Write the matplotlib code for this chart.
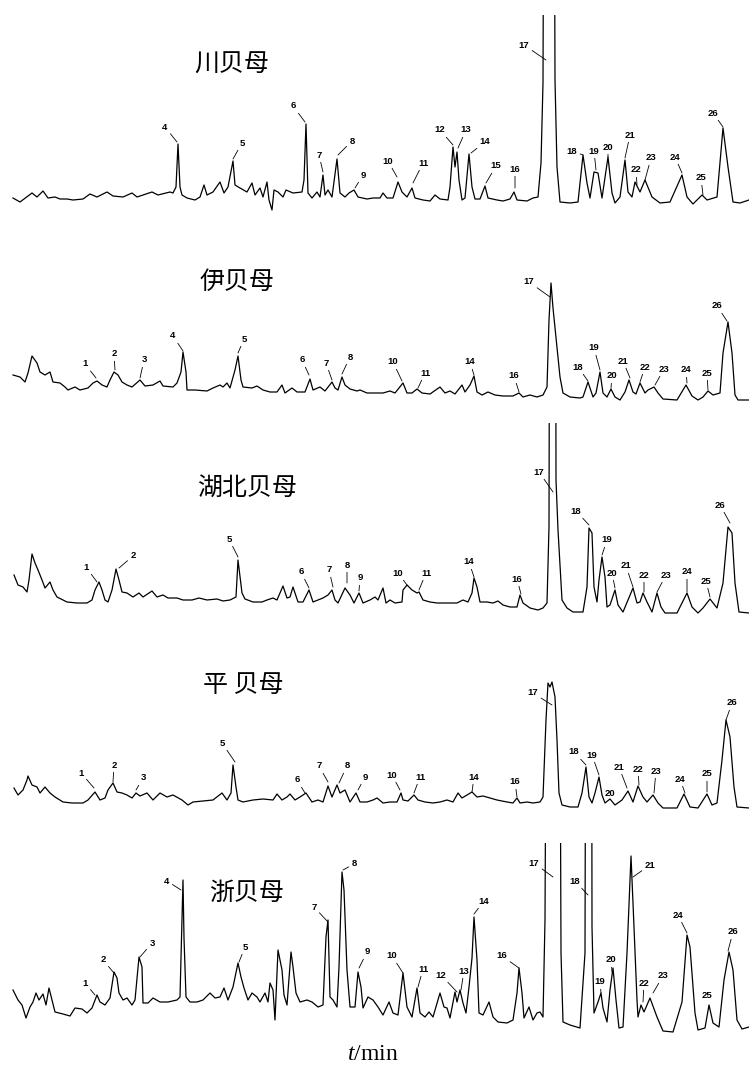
"""HPLC-ELSD fingerprints of five Fritillaria (贝母) species, stacked."""

import matplotlib
matplotlib.use('Agg')
import matplotlib.pyplot as plt

plt.rcParams['font.family'] = ['Liberation Sans', 'DejaVu Sans']
plt.rcParams['mathtext.fontset'] = 'custom'
plt.rcParams['mathtext.it'] = 'Liberation Serif:italic'
plt.rcParams['mathtext.rm'] = 'Liberation Serif'

# retention (arbitrary time units, no scale given) and detector signal
# 2000 = off-scale peak, top cut off in the original
chuan_t = [13, 20, 32, 37, 43, 48, 55, 60, 67, 73, 83, 90, 97, 107, 113, 123, 132, 137, 152, 158,
           170, 173, 176, 178, 180, 182, 187, 195, 200, 204, 207, 213, 220, 224, 228, 233, 235, 240, 247, 252,
           255, 260, 263, 267, 269, 272, 274, 278, 283, 286, 293, 302, 304, 306, 308, 312, 317, 320, 323, 325,
           328, 332, 337, 340, 345, 349, 354, 358, 367, 373, 380, 383, 387, 393, 398, 402, 407, 412, 415, 423,
           430, 435, 440, 448, 450, 453, 455, 457, 459, 462, 465, 469, 472, 475, 480, 485, 488, 497, 503, 510,
           514, 517, 527, 533, 538, 541, 543, 549, 555, 557, 560, 570, 578, 583, 587, 590, 594, 598, 602, 608,
           612, 615, 620, 625, 628, 632, 635, 640, 645, 652, 660, 670, 682, 687, 693, 702, 707, 717, 723, 728,
           733, 740, 749]
chuan_y = [2, -2, 7, 3, 9, 2, 3, 1, 1, 0, 1, 6, 3, 8, 4, 3, 7, 3, 8, 5,
           8, 7, 13, 56, 13, 5, 2, 0, 3, 15, 5, 8, 18, 7, 13, 39, 15, 12, 8, 17,
           5, 12, 3, 18, 0, -10, 10, 8, 3, 10, 7, 8, 20, 76, 7, 2, 8, 3, 25, 5,
           10, 3, 41, 7, 3, 7, 10, 3, 1, 2, 2, 7, 2, 2, 18, 8, 3, 12, 2, 0,
           -1, 5, 1, 0, 13, 53, 33, 48, 20, 0, 2, 46, 13, 1, 1, 14, 2, 0, -1, 1,
           8, 0, -1, 2, 3, 37, 117, 2000, 120, 33, -2, -3, -2, 45, 17, 2, 28, 27, 2, 43,
           7, -3, 3, 40, 8, 3, 18, 8, 20, 3, -3, -2, 25, 3, -4, 5, 0, 3, 72, 33,
           -2, -3, 0]

yi_t = [13, 20, 25, 28, 32, 37, 40, 45, 50, 53, 60, 65, 68, 75, 80, 88, 93, 97, 102, 107,
        110, 114, 118, 122, 127, 132, 140, 145, 153, 160, 163, 173, 177, 181, 183, 186, 187, 195, 207, 213,
        220, 223, 227, 230, 235, 238, 241, 243, 252, 257, 263, 270, 277, 282, 285, 292, 297, 305, 310, 313,
        320, 325, 332, 335, 338, 342, 345, 350, 357, 360, 367, 373, 380, 383, 390, 395, 403, 407, 412, 417,
        422, 430, 440, 445, 450, 455, 462, 465, 470, 474, 477, 482, 488, 495, 503, 513, 519, 523, 530, 537,
        543, 547, 549, 551, 553, 557, 560, 563, 570, 580, 583, 588, 593, 596, 600, 603, 607, 611, 615, 620,
        625, 629, 633, 636, 640, 645, 648, 654, 658, 663, 677, 686, 692, 698, 703, 708, 713, 720, 723, 728,
        732, 735, 738, 749]
yi_y = [25, 23, 18, 27, 44, 37, 28, 25, 28, 18, 17, 13, 10, 13, 10, 12, 17, 19, 15, 13,
        20, 28, 25, 18, 15, 13, 20, 14, 15, 19, 14, 13, 17, 28, 48, 28, 10, 10, 9, 12,
        15, 13, 17, 12, 30, 44, 20, 13, 12, 14, 10, 8, 8, 15, 7, 12, 8, 8, 21, 10,
        13, 9, 18, 12, 10, 23, 15, 11, 9, 10, 7, 7, 7, 7, 9, 7, 17, 7, 7, 11,
        7, 6, 13, 7, 9, 6, 15, 8, 15, 24, 8, 5, 8, 5, 4, 4, 7, 3, 5, 3,
        5, 13, 80, 117, 92, 53, 23, 7, 3, 2, 3, 18, 3, 7, 28, 7, 3, 11, 3, 0,
        8, 20, 8, 6, 17, 7, 10, 13, 7, 1, 0, 15, 4, 0, 3, 9, 5, 7, 47, 78,
        47, 5, 0, 0]

hubei_t = [14, 18, 23, 27, 29, 32, 35, 38, 42, 45, 50, 53, 57, 67, 77, 87, 92, 95, 99, 102,
           105, 108, 112, 116, 119, 122, 127, 133, 139, 143, 152, 157, 163, 168, 177, 183, 192, 199, 207, 217,
           223, 230, 236, 238, 242, 245, 253, 262, 267, 273, 277, 283, 287, 290, 293, 295, 298, 303, 309, 313,
           318, 323, 328, 332, 335, 338, 345, 350, 354, 359, 363, 370, 375, 378, 383, 386, 390, 395, 402, 403,
           407, 412, 417, 419, 423, 430, 437, 443, 450, 457, 463, 468, 472, 474, 477, 480, 487, 493, 498, 503,
           510, 517, 520, 523, 530, 538, 543, 547, 549, 553, 556, 558, 562, 567, 573, 583, 587, 589, 592, 594,
           597, 599, 602, 605, 607, 610, 615, 618, 623, 628, 633, 637, 640, 643, 647, 652, 657, 661, 665, 677,
           687, 692, 698, 703, 710, 717, 723, 728, 732, 735, 739, 749]
hubei_y = [37, 27, 25, 20, 32, 58, 49, 42, 32, 24, 30, 22, 15, 10, 9, 9, 12, 22, 30, 22,
           12, 10, 22, 43, 32, 20, 19, 15, 19, 15, 21, 15, 17, 14, 14, 12, 12, 14, 12, 13,
           11, 12, 15, 52, 19, 13, 10, 10, 12, 14, 12, 26, 14, 15, 25, 19, 10, 10, 22, 10,
           12, 14, 17, 22, 12, 9, 24, 17, 9, 19, 9, 12, 15, 12, 24, 9, 12, 9, 10, 22,
           27, 22, 19, 20, 12, 10, 9, 9, 9, 9, 12, 10, 19, 34, 25, 10, 10, 9, 11, 7,
           5, 5, 17, 9, 4, 2, 4, 9, 85, 2000, 132, 82, 12, 4, 0, 0, 25, 84, 79, 25,
           10, 32, 55, 35, 5, 7, 22, 7, 0, 12, 24, 9, 10, 19, 10, 0, 19, 5, -1, -1,
           19, 5, -1, 4, 13, 4, 29, 85, 79, 29, 0, -1]

ping_t = [14, 18, 23, 27, 28, 32, 37, 40, 45, 50, 55, 63, 72, 83, 88, 95, 100, 105, 108, 113,
          117, 122, 127, 132, 136, 140, 147, 153, 160, 167, 173, 182, 188, 193, 203, 213, 222, 227, 231, 233,
          236, 238, 243, 253, 263, 273, 277, 282, 287, 290, 295, 300, 306, 312, 318, 323, 328, 332, 337, 340,
          345, 350, 356, 360, 367, 373, 377, 383, 390, 397, 401, 403, 408, 414, 418, 425, 433, 440, 447, 453,
          458, 462, 467, 472, 477, 483, 490, 497, 507, 513, 517, 520, 527, 533, 540, 543, 546, 548, 550, 552,
          555, 557, 559, 562, 570, 578, 582, 586, 589, 592, 595, 599, 602, 605, 610, 615, 622, 628, 633, 638,
          643, 647, 653, 658, 663, 677, 684, 690, 698, 707, 712, 717, 722, 726, 730, 734, 737, 749]
ping_y = [20, 13, 18, 28, 32, 23, 21, 15, 21, 15, 11, 6, 5, 5, 8, 16, 8, 10, 18, 25,
          16, 15, 13, 10, 15, 12, 15, 8, 15, 11, 13, 8, 3, 6, 7, 8, 15, 8, 15, 43,
          21, 8, 6, 8, 9, 8, 14, 8, 11, 14, 8, 11, 15, 6, 8, 6, 22, 11, 23, 15,
          18, 6, 15, 6, 6, 8, 10, 5, 6, 6, 15, 8, 7, 13, 8, 6, 5, 6, 8, 6,
          15, 10, 13, 16, 11, 12, 10, 8, 6, 5, 10, 5, 6, 5, 6, 11, 88, 125, 121, 126,
          111, 68, 15, 3, 1, 1, 15, 41, 11, 5, 15, 31, 13, 5, 9, 3, 8, 17, 6, 22,
          11, 6, 13, 5, 0, 0, 14, 1, 0, 14, 3, 5, 48, 88, 71, 21, 1, 0]

zhe_t = [13, 18, 22, 26, 30, 33, 36, 39, 43, 46, 49, 52, 55, 63, 70, 75, 82, 87, 92, 97,
         100, 105, 110, 114, 117, 119, 123, 127, 132, 135, 139, 142, 143, 148, 153, 160, 168, 177, 180, 183,
         184, 186, 190, 197, 203, 210, 215, 220, 224, 228, 233, 238, 241, 244, 248, 252, 257, 260, 265, 268,
         270, 273, 275, 278, 282, 284, 287, 291, 293, 296, 300, 307, 312, 318, 323, 326, 328, 330, 333, 337,
         339, 342, 344, 347, 350, 355, 358, 361, 363, 368, 373, 378, 383, 389, 393, 398, 403, 407, 412, 417,
         420, 425, 429, 433, 440, 444, 447, 450, 455, 457, 460, 463, 466, 469, 472, 474, 477, 479, 483, 489,
         493, 498, 507, 513, 517, 519, 522, 524, 529, 533, 537, 540, 543, 545, 554, 561, 563, 570, 580, 585,
         589.5, 592, 594, 598, 601, 603, 607, 610, 613, 616, 619, 623, 627, 631, 633, 637, 638, 641, 644, 650,
         657, 663, 673, 682, 687, 690, 695, 698, 705, 709, 713, 719, 724, 729, 733, 737, 742, 749]
zhe_y = [42, 32, 27, 14, 25, 30, 39, 32, 38, 27, 44, 32, 20, 18, 16, 24, 23, 19, 24, 37,
         30, 27, 34, 60, 54, 39, 32, 34, 27, 32, 75, 65, 29, 29, 34, 30, 30, 32, 35, 152,
         94, 35, 30, 30, 32, 39, 34, 35, 44, 32, 45, 69, 55, 44, 32, 39, 35, 30, 39, 30,
         49, 42, 12, 82, 62, 37, 27, 80, 65, 39, 30, 32, 30, 25, 27, 95, 112, 35, 32, 25,
         65, 160, 142, 62, 25, 25, 60, 45, 24, 35, 32, 25, 17, 30, 19, 17, 59, 25, 15, 44,
         19, 15, 20, 15, 39, 25, 24, 14, 40, 30, 42, 29, 19, 45, 74, 115, 72, 19, 17, 30,
         15, 10, 9, 12, 39, 64, 39, 14, 25, 12, 19, 20, 15, 112, 2000, 79, 10, 7, 4, 79,
         2000, 105, 19, 30, 39, 24, 10, 42, 64, 32, 4, 5, 79, 176, 129, 32, 15, 27, 20, 34,
         15, 1, 0, 30, 97, 85, 19, 2, 4, 27, 9, 5, 52, 80, 62, 12, 3, 5]

# peak labels: (number, label x, label y, leader tip x, leader tip y)
chuan_marks = [(4, 165, 73, 177, 58), (5, 242, 57, 233, 41), (6, 293, 94, 305, 78), (7, 319, 45, 323, 28),
               (8, 352, 59, 338, 45), (9, 363, 25, 355, 12), (10, 388, 39, 397, 23), (11, 423, 37, 413, 17),
               (12, 440, 70, 453, 55), (13, 466, 70, 458, 52), (14, 485, 58, 471, 47), (15, 496, 34, 486, 17),
               (16, 515, 31, 515, 12), (17, 524, 155, 546, 140), (18, 572, 49, 583, 45), (19, 594, 49, 596, 30),
               (20, 608, 53, 608, 43), (21, 630, 65, 625, 42), (22, 636, 30, 637, 15), (23, 651, 42, 645, 20),
               (24, 675, 43, 682, 27), (25, 701, 22, 703, 5), (26, 713, 87, 723, 73)]
yi_marks = [(1, 85, 36, 96, 22), (2, 114, 46, 115, 30), (3, 144, 40, 140, 22), (4, 173, 64, 183, 49),
            (5, 244, 61, 238, 47), (6, 302, 40, 309, 25), (7, 326, 37, 332, 20), (8, 350, 43, 342, 26),
            (10, 393, 38, 402, 19), (11, 425, 27, 418, 12), (14, 470, 38, 474, 25), (16, 514, 24, 519, 8),
            (17, 529, 118, 550, 103), (18, 578, 33, 588, 19), (19, 594, 52, 600, 30), (20, 612, 24, 611, 12),
            (21, 623, 39, 630, 22), (22, 645, 33, 640, 18), (23, 664, 31, 655, 15), (24, 686, 30, 687, 17),
            (25, 707, 27, 708, 10), (26, 717, 94, 727, 79)]
hubei_marks = [(1, 86, 45, 97, 30), (2, 133, 56, 119, 44), (5, 229, 73, 238, 55), (6, 301, 40, 309, 24),
               (7, 329, 42, 333, 25), (8, 347, 47, 347, 29), (9, 360, 34, 359, 21), (10, 398, 39, 407, 27),
               (11, 426, 39, 419, 22), (14, 469, 50, 474, 35), (16, 517, 33, 521, 18), (17, 539, 140, 553, 120),
               (18, 576, 101, 589, 87), (19, 607, 72, 602, 57), (20, 612, 39, 615, 24), (21, 626, 46, 633, 25),
               (22, 644, 37, 644, 20), (23, 666, 37, 657, 20), (24, 687, 40, 687, 20), (25, 706, 31, 710, 15),
               (26, 720, 107, 730, 89)]
ping_marks = [(1, 81, 35, 94, 20), (2, 114, 43, 113, 26), (3, 143, 30, 136, 18), (5, 222, 65, 235, 46),
              (6, 297, 28, 305, 15), (7, 319, 42, 328, 26), (8, 347, 42, 339, 25), (9, 365, 31, 358, 18),
              (10, 392, 33, 400, 18), (11, 420, 31, 414, 15), (14, 474, 31, 472, 16), (16, 515, 26, 517, 11),
              (17, 533, 115, 552, 103), (18, 574, 56, 586, 43), (19, 592, 53, 599, 33), (20, 610, 15, None, None),
              (21, 619, 41, 627, 20), (22, 638, 39, 639, 23), (23, 656, 37, 654, 15), (24, 680, 29, 685, 15),
              (25, 707, 34, 707, 16), (26, 732, 105, 726, 88)]
zhe_marks = [(1, 85, 49, 95, 37), (2, 103, 72, 114, 59), (3, 152, 89, 140, 75), (4, 167, 151, 181, 142),
             (5, 245, 85, 239, 70), (7, 314, 125, 328, 110), (8, 354, 168, 343, 162), (9, 367, 80, 359, 64),
             (10, 392, 76, 403, 59), (11, 423, 63, 418, 45), (12, 441, 57, 457, 40), (13, 464, 61, 461, 42),
             (14, 484, 131, 474, 118), (16, 502, 76, 519, 64), (17, 534, 169, 553, 155), (18, 575, 151, 588, 137),
             (19, 600, 50, 601, 39), (20, 611, 72, 612, 60), (21, 650, 167, 633, 155), (22, 644, 49, 643, 30),
             (23, 663, 56, 653, 39), (24, 678, 117, 687, 99), (25, 707, 37, None, None), (26, 733, 100, 728, 81)]

W, H = 749, 1070
fig = plt.figure(figsize=(W / 100, H / 100), dpi=100)

# title, series, marks, title pos (x, signal), panel top / bottom / baseline in figure pixels
panels = [
    ('川贝母', chuan_t, chuan_y, chuan_marks, 232, 135, 15, 215, 200),
    ('伊贝母', yi_t, yi_y, yi_marks, 237, 118, 270, 415, 400),
    ('湖北贝母', hubei_t, hubei_y, hubei_marks, 247, 124, 423, 625, 612),
    ('平 贝母', ping_t, ping_y, ping_marks, 243, 123, 670, 820, 808),
    ('浙贝母', zhe_t, zhe_y, zhe_marks, 247, 139, 843, 1045, 1032),
]

for title, t, y, marks, tx, ty, top, bot, base in panels:
    ax = fig.add_axes([0, 1 - bot / H, 1, (bot - top) / H])
    ax.set_xlim(0, W)
    ax.set_ylim(-(bot - base), base - top)
    ax.axis('off')
    ax.plot(t, y, color='black', lw=0.9)
    ax.text(tx, ty, title, fontsize=18, family=['Noto Sans CJK SC', 'DejaVu Sans'],
            ha='center', va='center')
    for num, lx, ly, px, py in marks:
        if px is None:
            ax.text(lx, ly, str(num), fontsize=6.8, fontweight='bold', ha='center', va='center')
        else:
            ax.annotate(str(num), xy=(px, py), xytext=(lx, ly), fontsize=6.8,
                        fontweight='bold', ha='center', va='center',
                        arrowprops=dict(arrowstyle='-', lw=0.6, color='black',
                                        shrinkA=0, shrinkB=0))

fig.text(373 / W, 1 - 1055 / H, r'$t$/min', fontsize=17, family='Liberation Serif',
         ha='center', va='center')

fig.savefig('out.png', dpi=100)
